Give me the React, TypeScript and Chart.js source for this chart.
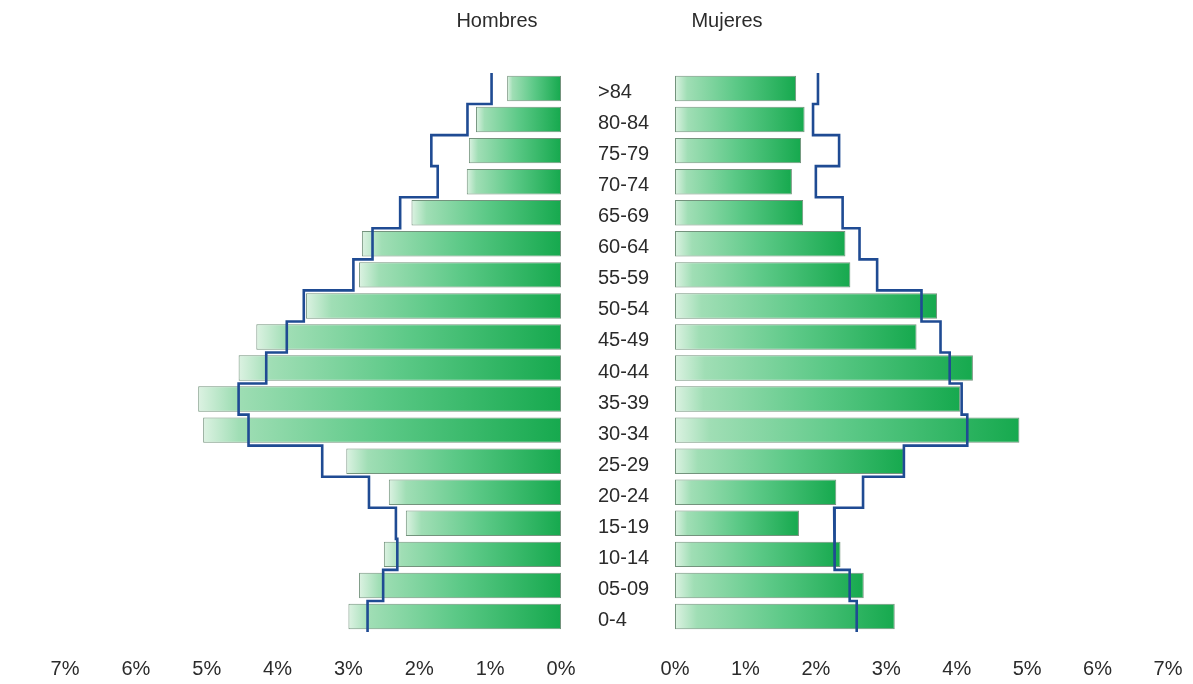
import React, { useEffect, useRef } from 'react';
import { Chart, registerables } from 'chart.js';

Chart.register(...registerables);

const ageGroups = ['>84', '80-84', '75-79', '70-74', '65-69', '60-64', '55-59', '50-54', '45-49', '40-44', '35-39', '30-34', '25-29', '20-24', '15-19', '10-14', '05-09', '0-4'];
const hombres = [0.76, 1.2, 1.3, 1.33, 2.11, 2.81, 2.85, 3.6, 4.3, 4.55, 5.12, 5.05, 3.03, 2.43, 2.19, 2.5, 2.85, 3.0];
const hombresLinea = [0.98, 1.32, 1.83, 1.74, 2.27, 2.66, 2.93, 3.63, 3.87, 4.16, 4.55, 4.41, 3.37, 2.71, 2.33, 2.31, 2.51, 2.73];
const mujeres = [1.72, 1.84, 1.79, 1.66, 1.82, 2.42, 2.49, 3.72, 3.43, 4.23, 4.05, 4.89, 3.25, 2.29, 1.76, 2.35, 2.68, 3.12];
const mujeresLinea = [2.03, 1.96, 2.33, 2.0, 2.38, 2.62, 2.87, 3.5, 3.77, 3.9, 4.07, 4.15, 3.25, 2.67, 2.26, 2.27, 2.48, 2.58];
const axisMin = 0;
const axisMax = 7;
const titles = ['Hombres', 'Mujeres'];

const FONT = "'Liberation Sans', Arial, Helvetica, sans-serif";
const TEXT = '#2b2b2b';

function stepPoints(values: number[]) {
  const pts: { x: number; y: number }[] = [];
  values.forEach((v, i) => {
    pts.push({ x: v, y: i - 0.5 });
    pts.push({ x: v, y: i + 0.5 });
  });
  return pts;
}

function barGradient(ctx: any) {
  const chart = ctx.chart;
  const xs = chart.scales && chart.scales.x;
  if (!chart.chartArea || !xs || ctx.type !== 'data') return '#5ec98a';
  const v = ctx.raw as number;
  const a = xs.getPixelForValue(0);
  const b = xs.getPixelForValue(v);
  const l = Math.min(a, b);
  const r = Math.max(a, b);
  if (!isFinite(l) || !isFinite(r) || r - l < 1) return '#5ec98a';
  const g = chart.ctx.createLinearGradient(l, 0, r, 0);
  g.addColorStop(0, '#dcf2e2');
  g.addColorStop(0.1, '#a0deb5');
  g.addColorStop(0.5, '#5cc987');
  g.addColorStop(1, '#16a94e');
  return g;
}

function makeConfig(side: 'left' | 'right'): any {
  const isLeft = side === 'left';
  const values = isLeft ? hombres : mujeres;
  const linea = isLeft ? hombresLinea : mujeresLinea;
  return {
    type: 'bar',
    data: {
      labels: ageGroups,
      datasets: [
        {
          type: 'line',
          data: stepPoints(linea),
          xAxisID: 'x',
          yAxisID: 'y2',
          borderColor: '#1f4b93',
          borderWidth: 2.6,
          pointRadius: 0,
          fill: false,
          tension: 0,
          order: 0,
        },
        {
          type: 'bar',
          data: values,
          xAxisID: 'x',
          yAxisID: 'y',
          backgroundColor: barGradient,
          borderColor: '#74937d',
          borderWidth: 1,
          borderSkipped: false,
          grouped: false,
          barPercentage: 0.82,
          categoryPercentage: 1,
          order: 1,
        },
      ],
    },
    options: {
      indexAxis: 'y',
      responsive: false,
      animation: false,
      layout: {
        padding: isLeft
          ? { left: 65, right: 29, top: 73, bottom: 3 }
          : { left: 8, right: 25, top: 73, bottom: 3 },
      },
      plugins: {
        legend: { display: false },
        tooltip: { enabled: false },
        title: { display: false },
      },
      scales: {
        x: {
          type: 'linear',
          min: axisMin,
          max: axisMax,
          offset: false,
          reverse: isLeft,
          grid: { display: false, drawTicks: false },
          border: { display: false },
          ticks: {
            stepSize: 1,
            padding: 25,
            maxRotation: 0,
            color: TEXT,
            font: { family: FONT, size: 20 },
            callback: (v: number) => `${v}%`,
          },
          afterFit: (s: any) => {
            s.height = 49;
            s.paddingLeft = 0;
            s.paddingRight = 0;
          },
        },
        y: {
          type: 'category',
          display: !isLeft,
          position: 'left',
          offset: true,
          grid: { display: false, drawTicks: false },
          border: { display: false },
          ticks: {
            crossAlign: 'far',
            padding: 0,
            labelOffset: 4,
            color: TEXT,
            font: { family: FONT, size: 20 },
          },
          afterFit: (s: any) => {
            if (!isLeft) s.width = 77;
            s.paddingTop = 0;
            s.paddingBottom = 0;
          },
        },
        y2: {
          type: 'linear',
          axis: 'y',
          display: false,
          offset: false,
          min: -0.5,
          max: ageGroups.length - 0.5,
          reverse: true,
        },
      },
    },
  };
}

function Panel({ side, left, width }: { side: 'left' | 'right'; left: number; width: number }) {
  const ref = useRef<HTMLCanvasElement | null>(null);
  useEffect(() => {
    if (!ref.current) return;
    const chart = new Chart(ref.current, makeConfig(side));
    return () => chart.destroy();
  }, [side]);
  return (
    <canvas
      ref={ref}
      width={width}
      height={684}
      style={{ position: 'absolute', left, top: 0, width, height: 684, display: 'block' }}
    />
  );
}

export default function App() {
  const titleStyle: React.CSSProperties = {
    position: 'absolute',
    top: 8,
    fontFamily: FONT,
    fontSize: 20,
    color: TEXT,
    lineHeight: '24px',
    whiteSpace: 'nowrap',
    transform: 'translateX(-50%)',
  };
  return (
    <div style={{ position: 'fixed', left: 0, top: 0, width: 1193, height: 684, background: '#ffffff', overflow: 'hidden' }}>
      <Panel side="left" left={0} width={590} />
      <Panel side="right" left={590} width={603} />
      <div style={{ ...titleStyle, left: 497 }}>{titles[0]}</div>
      <div style={{ ...titleStyle, left: 727 }}>{titles[1]}</div>
    </div>
  );
}
